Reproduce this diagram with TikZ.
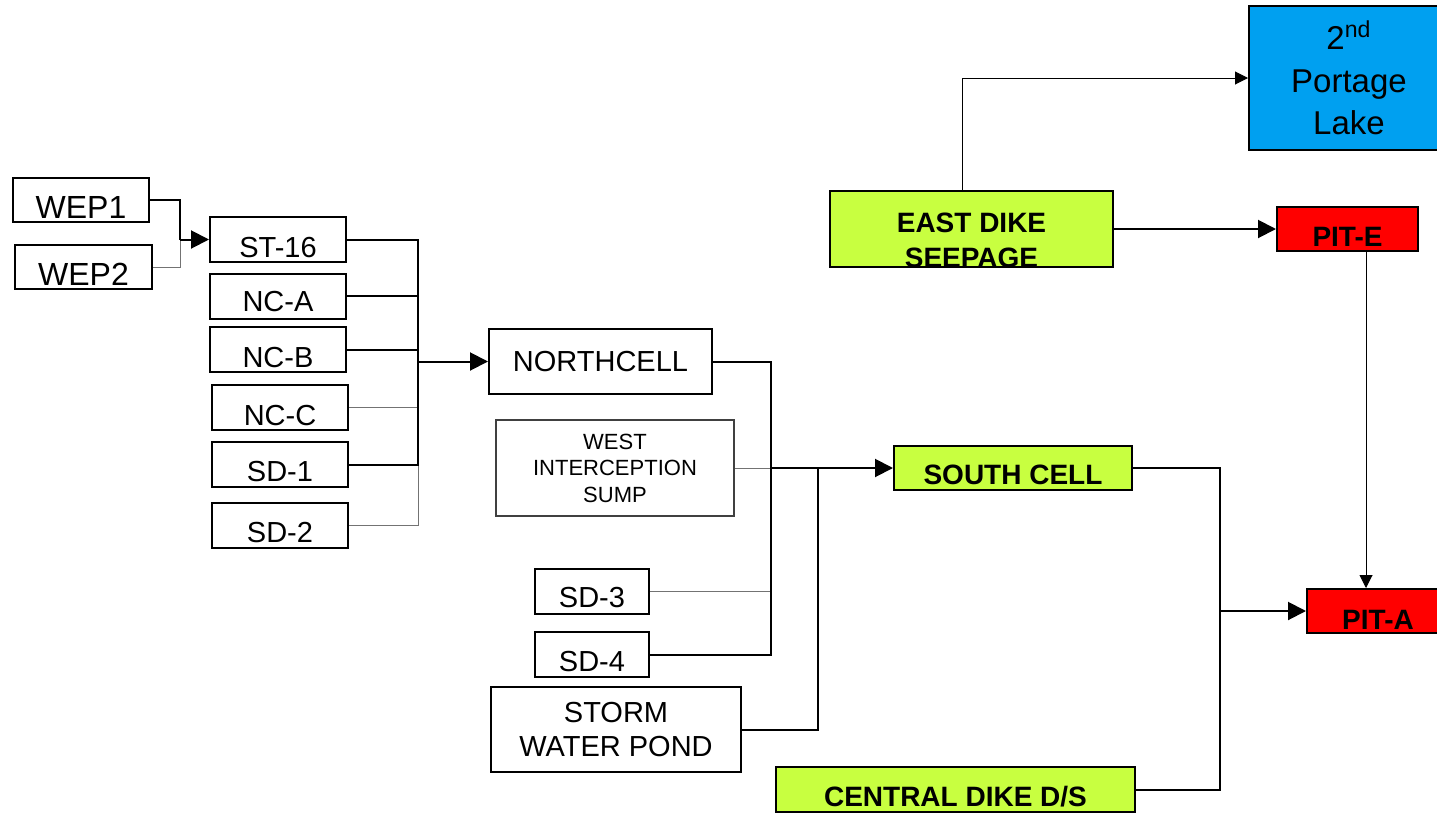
\documentclass[tikz,border=0pt]{standalone}
\usepackage{fontspec}
\setmainfont{Liberation Sans}
\usepackage{tikz}
\usetikzlibrary{
    arrows.meta,
    positioning,
    calc,
}
\usepackage{xcolor}
\definecolor{dikegreen}{HTML}{C8FF40}
\definecolor{pitred}{HTML}{FF0000}
\definecolor{lakeblue}{HTML}{00A0F0}
\newcommand{\fsz}[2]{\fontsize{#1}{#2}\selectfont}
\newcommand{\lowered}[2][4pt]{\raisebox{-#1}[\height][\depth]{#2}}

\begin{document}
\begin{tikzpicture}[
    x=0.5pt, y=-0.5pt,
    box/.style      = {rectangle, draw, line width=1pt, inner sep=0pt,
                       align=center, font=\fsz{14.5}{17}},
    sbox/.style     = {box, minimum width=68pt, minimum height=22.5pt},
    gbox/.style     = {box, fill=dikegreen, font=\fsz{14}{17.5}\bfseries},
    pbox/.style     = {box, fill=pitred, font=\fsz{14}{17}\bfseries,
                       minimum width=71pt, minimum height=22pt},
    feedline/.style = {line width=1pt},
    greyline/.style = {line width=0.5pt, black!55},
    arr/.style      = {feedline, -{Triangle[length=9pt,width=9pt]}},
    tarr/.style     = {line width=0.5pt, -{Triangle[length=6.5pt,width=6.5pt]}},
]
\useasboundingbox (0,0) rectangle (1437,814);

%% ── Left column: sumps feeding North Cell ──────────────────────────────────
\node[sbox, minimum height=22pt, font=\fsz{16}{19}] (wep1) at (81,200)   {\lowered[3.75pt]{WEP1}};
\node[sbox, minimum width=68.5pt, minimum height=22pt, font=\fsz{16}{19}]
                                                    (wep2) at (83.5,267) {\lowered[3.5pt]{WEP2}};
\node[sbox] (st16) at (278,239.5) {\lowered{ST-16}};
\node[sbox] (nca)  at (278,296)   {\lowered[3pt]{NC-A}};
\node[sbox] (ncb)  at (278,349.5) {\lowered{NC-B}};
\node[sbox] (ncc)  at (280,407.5) {\lowered{NC-C}};
\node[sbox] (sd1)  at (280,464.5) {\lowered[3.5pt]{SD-1}};
\node[sbox] (sd2)  at (280,525.5) {\lowered[3.75pt]{SD-2}};

%% ── Middle column ───────────────────────────────────────────────────────────
\node[box, minimum width=111.5pt, minimum height=32.5pt] (north) at (600.5,361.5) {NORTHCELL};
\node[box, draw=black!75, line width=0.6pt, minimum width=119pt, minimum height=48pt,
      font=\fsz{11}{13.25}] (wis) at (615,468) {WEST\\INTERCEPTION\\SUMP};
\node[box, minimum width=57pt, minimum height=22.5pt] (sd3) at (592,591.5) {\lowered[3.25pt]{SD-3}};
\node[box, minimum width=57pt, minimum height=22.5pt] (sd4) at (592,654.5) {\lowered[3.5pt]{SD-4}};
\node[box, minimum width=125pt, minimum height=42.5pt] (pond) at (616,729.5) {STORM\\WATER POND};

%% ── Right side: cells, dikes, pits, lake ───────────────────────────────────
\node[gbox, minimum width=119pt, minimum height=22pt] (south) at (1013,468) {\lowered[3.5pt]{SOUTH CELL}};
\node[gbox, minimum width=141.5pt, minimum height=38pt] (edike) at (971.5,229)
    {\lowered[6.75pt]{\begin{tabular}{@{}c@{}}EAST DIKE\\SEEPAGE\end{tabular}}};
\node[gbox, minimum width=179.5pt, minimum height=22.5pt] (cdike) at (955.5,789.5)
    {\lowered[3.75pt]{CENTRAL DIKE D/S}};
\node[box, fill=lakeblue, minimum width=100pt, minimum height=72pt,
      font=\fsz{16.5}{21.25}] (lake) at (1349,78) {2\textsuperscript{nd}\\Portage\\Lake};
\node[pbox, minimum width=70.5pt] (pite) at (1347.5,229) {\lowered{PIT-E}};
\node[pbox] (pita) at (1378,611) {\lowered[4.5pt]{PIT-A}};

%% ── WEP1 / WEP2 into ST-16 ──────────────────────────────────────────────────
\coordinate (wepj) at (180,239.5);
\draw[greyline] (wep2.east) -| (wepj);
\draw[feedline] (wep1.east) -| (wepj);
\draw[arr] (wepj) -- (st16.west);

%% ── Left bus into North Cell ────────────────────────────────────────────────
\coordinate (busA) at (418,361.5);
\draw[greyline] (ncc.east) -| (busA);
\draw[greyline] (sd2.east) -| (busA);
\foreach \src in {st16,nca,ncb,sd1}
    \draw[feedline] (\src.east) -| (busA);
\draw[arr] (busA) -- (north.west);

%% ── Middle bus into South Cell ──────────────────────────────────────────────
\coordinate (busB) at (771,468);
\coordinate (busC) at (818,468);
\draw[greyline] (sd3.east) -| (busB);
\draw[greyline] (wis.east) -- (busC);
\draw[feedline] (north.east) -| (busB);
\draw[feedline] (sd4.east)   -| (busB);
\draw[feedline] (pond.east)  -| (busC);
\draw[arr] (busB) -- (south.west);

%% ── South Cell and Central Dike into PIT-A ─────────────────────────────────
\coordinate (busD) at (1220,611);
\draw[feedline] (south.east) -| (busD);
\draw[feedline] (cdike.east) -| (busD);
\draw[arr] (busD) -- (pita.west);

%% ── East Dike seepage ───────────────────────────────────────────────────────
\coordinate (lakej) at (962,78);
\draw[tarr] (edike.north -| lakej) |- (lake.west);
\draw[arr] (edike.east) -- (pite.west);

%% ── PIT-E down to PIT-A ─────────────────────────────────────────────────────
\coordinate (dropj) at (1366,0);
\draw[tarr] (pite.south -| dropj) -- (pita.north -| dropj);

\end{tikzpicture}
\end{document}
